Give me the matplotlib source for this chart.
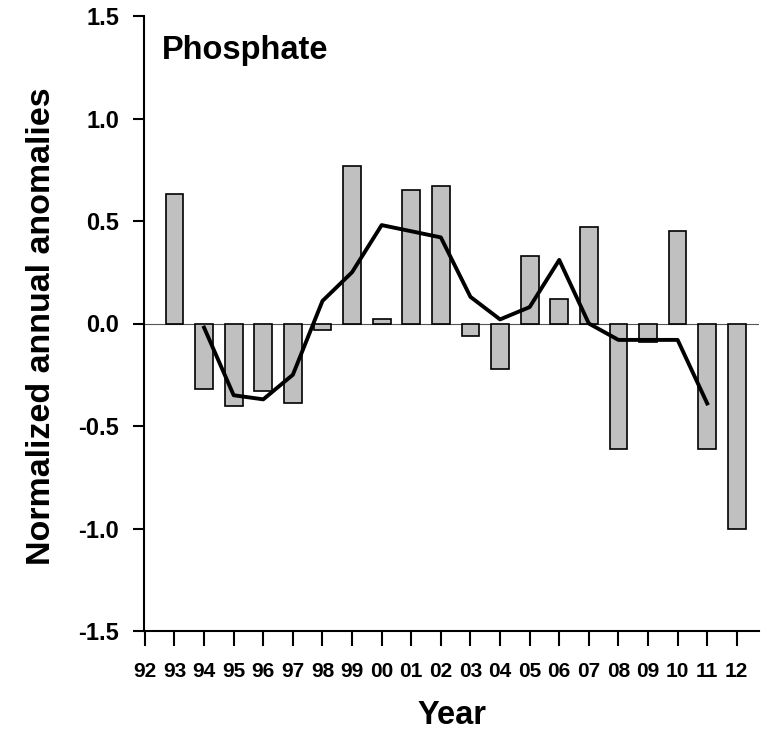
import numpy as np
from matplotlib import pyplot as plt

plt.rcParams['font.family'] = ['Liberation Sans', 'DejaVu Sans']
plt.rcParams['font.weight'] = 'bold'

# year labels, 1992..2012
years = ["92", "93", "94", "95", "96", "97", "98", "99", "00", "01", "02",
         "03", "04", "05", "06", "07", "08", "09", "10", "11", "12"]

# annual anomalies (bars), starting with 93
bar_years = years[1:]
anomalies = [0.63, -0.32, -0.40, -0.33, -0.39, -0.03, 0.77, 0.02, 0.65, 0.67,
             -0.06, -0.22, 0.33, 0.12, 0.47, -0.61, -0.09, 0.45, -0.61, -1.00]

# running mean (line), 94..11
line_years = years[2:20]
running = [-0.02, -0.35, -0.37, -0.25, 0.11, 0.25, 0.48, 0.45, 0.42, 0.13,
           0.02, 0.08, 0.31, 0.00, -0.08, -0.08, -0.08, -0.39]

W, H = 769, 735
fig = plt.figure(figsize=(W / 100, H / 100), dpi=100)
ax = fig.add_axes([144 / W, 1 - 631 / H, (759 - 144) / W, (631 - 16) / H])

pos = {y: i for i, y in enumerate(years)}
bx = [pos[y] for y in bar_years]
lx = [pos[y] for y in line_years]

ax.axhline(0, color='#555555', lw=0.8, zorder=1)
ax.bar(bx, anomalies, width=0.6, color='#c0c0c0', edgecolor='black',
       linewidth=1.2, zorder=2)
ax.plot(lx, running, color='black', lw=2.8, zorder=3)

ax.set_xlim(-0.03, 20.75)
ax.set_ylim(-1.5, 1.5)
ax.set_yticks([-1.5, -1.0, -0.5, 0.0, 0.5, 1.0, 1.5])
ax.set_yticklabels(["-1.5", "-1.0", "-0.5", "0.0", "0.5", "1.0", "1.5"])
ax.set_xticks(range(len(years)))
ax.set_xticklabels(years)

for s in ['top', 'right']:
    ax.spines[s].set_visible(False)
for s in ['left', 'bottom']:
    ax.spines[s].set_linewidth(1.5)
ax.tick_params(axis='y', direction='out', length=8, width=1.5, labelsize=17, pad=10)
ax.tick_params(axis='x', direction='out', length=11, width=1.5, labelsize=15, pad=11)

# axis titles placed in figure pixels
fig.text(42 / W, 1 - 326 / H, "Normalized annual anomalies", rotation=90,
         fontsize=24.5, fontweight='bold', ha='center', va='center')
fig.text(452 / W, 1 - 715 / H, "Year", fontsize=23.5,
         fontweight='bold', ha='center', va='center')
fig.text(162 / W, 1 - 50 / H, "Phosphate", fontsize=23.5,
         fontweight='bold', ha='left', va='center')

fig.savefig("out.png", dpi=100)
